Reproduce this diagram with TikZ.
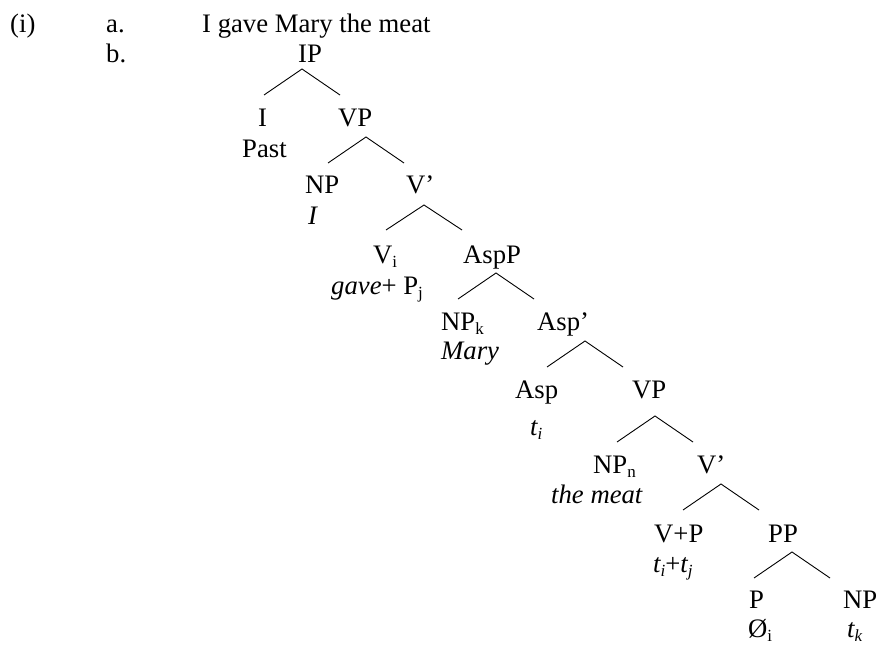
\documentclass[tikz,border=0pt]{standalone}
\usepackage{fontspec}
\setmainfont{Liberation Serif}
\newcommand{\sbs}[1]{\raisebox{-0.16em}{\fontsize{17}{17}\selectfont #1}}
\begin{document}
\begin{tikzpicture}[x=1pt,y=-1pt,
  lbl/.style={anchor=base west,inner sep=0pt,font=\fontsize{26.7}{32}\selectfont},
  branch/.style={line width=0.9pt}]
\useasboundingbox (0,0) rectangle (877,645);
% header
\node[lbl] (ex) at (10,32) {(i)};
\node[lbl] (la) at (106,32) {a.};
\node[lbl] (lb) at (106,62) {b.};
\node[lbl] (sent) at (202,32) {I gave Mary the meat};
% tree labels
\node[lbl] (IP) at (298,62) {IP};
\node[lbl] (I) at (258,126) {I};
\node[lbl] (Past) at (242,157) {Past};
\node[lbl] (VP1) at (338,126) {VP};
\node[lbl] (NP1) at (305,193) {NP};
\node[lbl] (NP1w) at (308,224) {\itshape I};
\node[lbl] (Vb1) at (406,193) {V’};
\node[lbl] (Vi) at (373,263) {V\sbs{i}};
\node[lbl] (gave) at (331,294) {\itshape gave\upshape+ P\sbs{j}};
\node[lbl] (AspP) at (463,263) {AspP};
\node[lbl] (NPk) at (441,330) {NP\sbs{k}};
\node[lbl] (Mary) at (441,359) {\itshape Mary};
\node[lbl] (Aspb) at (537,330) {Asp’};
\node[lbl] (Asp) at (515,398) {Asp};
\node[lbl] (ti) at (530,435) {\itshape t\sbs{i}};
\node[lbl] (VP2) at (632,398) {VP};
\node[lbl] (NPn) at (593,473) {NP\sbs{n}};
\node[lbl] (meat) at (551,503) {\itshape the meat};
\node[lbl] (Vb2) at (697,473) {V’};
\node[lbl] (VPP) at (654,542) {V+P};
\node[lbl] (titj) at (653,572) {\itshape t\sbs{i}\upshape+\itshape t\sbs{j}};
\node[lbl] (PP) at (768,542) {PP};
\node[lbl] (P) at (749,608) {P};
\node[lbl] (zero) at (748,637) {Ø\sbs{i}};
\node[lbl] (NP3) at (843,608) {NP};
\node[lbl] (tk) at (847,637) {\itshape t\sbs{k}};
% branches
\coordinate (IPt) at (302,69);  \coordinate (IPl) at (264,95);  \coordinate (IPr) at (340,95);
\coordinate (VPt) at (366,137); \coordinate (VPl) at (328,163); \coordinate (VPr) at (404,163);
\coordinate (Vbt) at (424,205); \coordinate (Vbl) at (386,230); \coordinate (Vbr) at (462,230);
\coordinate (APt) at (496,273); \coordinate (APl) at (458,299); \coordinate (APr) at (534,299);
\coordinate (Abt) at (585,341); \coordinate (Abl) at (547,367); \coordinate (Abr) at (623,367);
\coordinate (V2t) at (655,416); \coordinate (V2l) at (617,442); \coordinate (V2r) at (693,442);
\coordinate (Wbt) at (721,484); \coordinate (Wbl) at (683,510); \coordinate (Wbr) at (759,510);
\coordinate (PPt) at (792,552); \coordinate (PPl) at (754,578); \coordinate (PPr) at (830,578);
\draw[branch] (IPl) -- (IPt) -- (IPr);
\draw[branch] (VPl) -- (VPt) -- (VPr);
\draw[branch] (Vbl) -- (Vbt) -- (Vbr);
\draw[branch] (APl) -- (APt) -- (APr);
\draw[branch] (Abl) -- (Abt) -- (Abr);
\draw[branch] (V2l) -- (V2t) -- (V2r);
\draw[branch] (Wbl) -- (Wbt) -- (Wbr);
\draw[branch] (PPl) -- (PPt) -- (PPr);
\end{tikzpicture}
\end{document}
